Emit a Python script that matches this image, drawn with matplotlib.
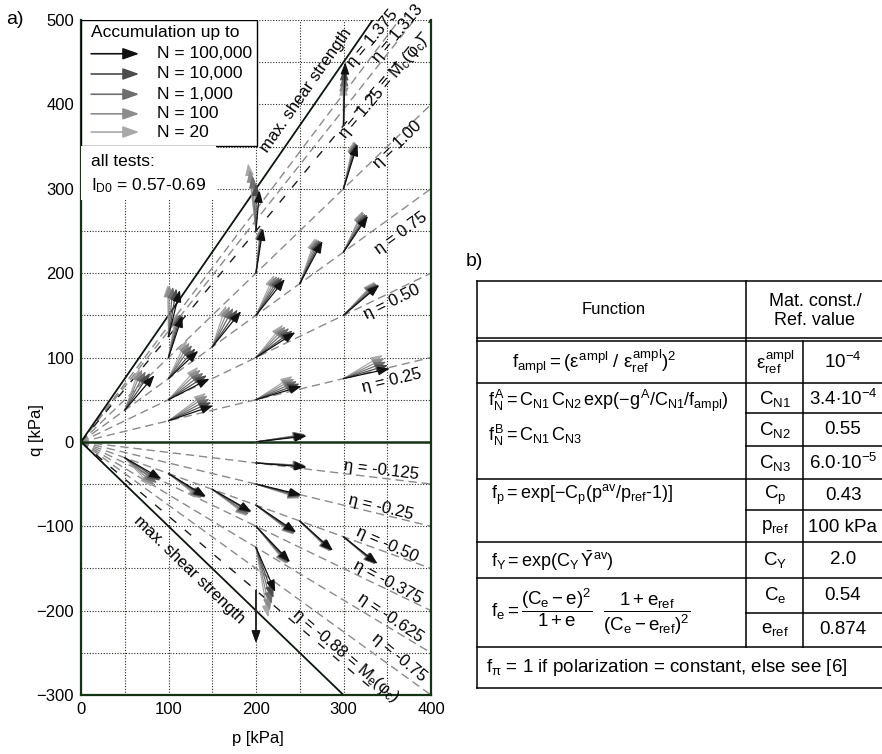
import numpy as np
import matplotlib
matplotlib.use('Agg')
import matplotlib.pyplot as plt
from matplotlib.patches import Rectangle

plt.rcParams['font.family'] = ['Liberation Sans', 'DejaVu Sans']
plt.rcParams['mathtext.fontset'] = 'custom'
plt.rcParams['mathtext.rm'] = 'Liberation Sans'
plt.rcParams['mathtext.it'] = 'Liberation Sans'
plt.rcParams['mathtext.sf'] = 'Liberation Sans'
plt.rcParams['mathtext.bf'] = 'Liberation Sans:bold'

# stress ratios eta = q/p
eta_grey = [1.375, 1.313, 1.00, 0.75, 0.50, 0.25, -0.125, -0.25, -0.375, -0.50, -0.625, -0.75]
eta_crit = [1.25, -0.88]
eta_max = [1.5, -1.0]

# accumulation arrows: start point and end points for N = 20, 100, 1000, 10000, 100000
start_p = [50, 100, 100, 100, 100, 100, 150, 200, 200, 200, 200, 200, 250, 300, 300, 300, 300, 300, 200,
           200, 50, 100, 150, 200, 200, 200, 200, 200, 250, 300]
start_q = [37.5, 25, 50, 75, 100, 125, 112.5, 50, 100, 150, 200, 250, 187.5, 75, 150, 225, 300, 375, 0,
           -25, -18.75, -37.5, -56.25, -50, -75, -100, -125, -176, -93.75, -112.5]
end_p = [[67, 70, 74, 79, 84], [143, 145, 147, 149, 151], [134, 137, 140, 144, 147], [121, 124, 127, 131, 134],
         [109, 110, 112, 114, 116], [99, 101, 105, 109, 113], [166, 170, 174, 179, 183], [242, 244, 247, 250, 252],
         [231, 234, 238, 242, 245], [221, 224, 227, 230, 233], [205, 206, 206, 207, 208], [191, 193, 196, 200, 204],
         [268, 270, 272, 274, 276], [345, 347, 349, 351, 353], [336, 337, 338, 340, 341], [322, 323, 325, 327, 328],
         [312, 313, 314, 315, 316], [300, 300, 301, 301, 302], [256, 256, 257, 257, 258],
         [256, 256, 257, 257, 258], [81, 84, 87, 90, 92], [136, 138, 140, 142, 143], [190, 191, 192, 194, 195],
         [250, 250, 251, 251, 252], [243, 244, 244, 245, 246], [235, 236, 237, 238, 239], [214, 216, 218, 220, 222],
         [200, 200, 200, 200, 200], [285, 286, 286, 287, 288], [336, 337, 337, 338, 339]]
end_q = [[87, 86, 84, 82, 79], [58, 55, 51, 47, 43], [89, 86, 82, 79, 75], [121, 118, 115, 111, 108],
         [152, 152, 151, 151, 150], [186, 186, 184, 182, 180], [162, 161, 159, 157, 155], [78, 75, 72, 69, 66],
         [139, 137, 135, 132, 130], [198, 197, 196, 195, 193], [254, 254, 254, 253, 253], [330, 322, 315, 306, 298],
         [242, 241, 240, 239, 238], [103, 99, 95, 91, 87], [190, 189, 188, 187, 186], [274, 273, 271, 270, 268],
         [357, 356, 355, 354, 353], [425, 430, 436, 443, 450], [9, 9, 8, 8, 7],
         [-28, -28, -29, -29, -30], [-53, -51, -49, -46, -44], [-67, -67, -66, -66, -65], [-88, -87, -86, -84, -83],
         [-67, -66, -65, -64, -63], [-110, -109, -109, -108, -107], [-145, -144, -144, -143, -142.5],
         [-208, -200, -192, -185, -178], [-238, -238, -238, -238, -238], [-130, -130, -129, -129, -129],
         [-145, -145, -145, -144, -144.5]]
n_labels = ['N = 20', 'N = 100', 'N = 1,000', 'N = 10,000', 'N = 100,000']
n_colors = ['#a8a8a8', '#8c8c8c', '#6e6e6e', '#4c4c4c', '#111111']

# line labels: text, p, q, rotation
line_labels = [
    ('max. shear strength', 257, 417, 55),
    ('η = 1.375', 333, 478, 50),
    ('η = 1.313', 362, 484, 50),
    (r'η = 1.25 = M$_\mathrm{c}$(φ$_\mathrm{c}$)', 345, 420, 50),
    ('η = 1.00', 362, 352, 44),
    ('η = 0.75', 366, 247, 36),
    ('η = 0.50', 355, 166, 26),
    ('η = 0.25', 355, 73, 13.5),
    ('η = -0.125', 343, -33, -7),
    ('η = -0.25', 343, -78, -13.5),
    ('η = -0.50', 350, -122, -24),
    ('η = -0.375', 351, -166, -28),
    ('η = -0.625', 354, -209, -34),
    ('η = -0.75', 364, -255, -40),
    (r'η = -0.88 = M$_\mathrm{e}$(φ$_\mathrm{c}$)', 302, -254, -40.5),
    ('max. shear strength', 124, -152, -44),
]

# table b)
head_texts = ['Function', 'Mat. const./\nRef. value']
func_texts = [r'$f_{ampl} = (\varepsilon^{ampl}\ /\ \varepsilon^{ampl}_{ref})^2$',
              r'$f_N^A = C_{N1}\,C_{N2}\,exp(-g^A/C_{N1}/f_{ampl})$',
              r'$f_N^B = C_{N1}\,C_{N3}$',
              r'$f_p = exp[-C_p(p^{av}/p_{ref}$-1)]',
              r'$f_Y = exp(C_Y\,\bar{Y}^{av})$',
              r'$f_e = \dfrac{(C_e - e)^2}{1 + e}\ \ \dfrac{1 + e_{ref}}{(C_e - e_{ref})^2}$',
              r'$f_\pi$ = 1 if polarization = constant, else see [6]']
const_names = [r'$\varepsilon^{ampl}_{ref}$', r'$C_{N1}$', r'$C_{N2}$', r'$C_{N3}$', r'$C_p$', r'$p_{ref}$',
               r'$C_Y$', r'$C_e$', r'$e_{ref}$']
const_values = [r'10$^{-4}$', r'3.4$\cdot$10$^{-4}$', '0.55', r'6.0$\cdot$10$^{-5}$', '0.43', '100 kPa',
                '2.0', '0.54', '0.874']

fig = plt.figure(figsize=(8.82, 7.54), dpi=100)

# overlay in pixel coordinates for table and panel letters
axt = fig.add_axes([0, 0, 1, 1])
axt.set_xlim(0, 882)
axt.set_ylim(754, 0)
axt.axis('off')

ax = fig.add_axes([81 / 882, 59 / 754, 350 / 882, 675 / 754])
ax.set_xlim(0, 400)
ax.set_ylim(-300, 500)
ax.set_xticks(np.arange(0, 401, 100))
ax.set_yticks(np.arange(-300, 501, 100))
ax.set_xticks(np.arange(50, 400, 100), minor=True)
ax.set_yticks(np.arange(-250, 500, 100), minor=True)
ax.tick_params(which='both', length=0, labelsize=12)
ax.tick_params(axis='x', pad=5)
ax.tick_params(axis='y', pad=5)
ax.grid(which='both', color='#2a2a20', linestyle=(0, (1, 1.5)), linewidth=0.8, zorder=0)
ax.set_axisbelow(True)
spine_col = '#143214'
for s in ['left', 'right', 'bottom']:
    ax.spines[s].set_color(spine_col)
    ax.spines[s].set_linewidth(1.6)
ax.spines['top'].set_visible(False)
ax.axhline(0, color=spine_col, lw=1.8, zorder=2)

pp = np.array([0, 400])
for e in eta_grey:
    ax.plot(pp, e * pp, color='#8a8a8a', lw=1.0, dashes=(6, 3.5), zorder=1)
for e in eta_crit:
    ax.plot(pp, e * pp, color='#1a1a1a', lw=1.0, dashes=(6, 8), zorder=1)
for e in eta_max:
    ax.plot(pp, e * pp, color='#0c160c', lw=1.3, zorder=2)

for i in range(len(start_p)):
    for k in range(5):
        ax.annotate('', xy=(end_p[i][k], end_q[i][k]), xytext=(start_p[i], start_q[i]),
                    arrowprops=dict(arrowstyle='-|>,head_length=0.55,head_width=0.2', color=n_colors[k],
                                    lw=0.9, shrinkA=0, shrinkB=0, mutation_scale=13), zorder=3)

for txt, p, q, rot in line_labels:
    ax.text(p, q, txt, rotation=rot, rotation_mode='anchor', ha='center', va='center',
            fontsize=12, zorder=4, clip_on=False)

# legend box
ax.add_patch(Rectangle((0, 0.813), 0.503, 0.187, transform=ax.transAxes, facecolor='white',
                       edgecolor='black', lw=1.0, zorder=5))
ax.add_patch(Rectangle((0, 0.733), 0.386, 0.08, transform=ax.transAxes, facecolor='white',
                       edgecolor='none', zorder=5))
ax.text(0.029, 0.981, 'Accumulation up to', transform=ax.transAxes, ha='left', va='center',
        fontsize=12.5, zorder=6)
row_y = [0.834, 0.861, 0.890, 0.920, 0.950]
for k in range(5):
    ax.annotate('', xy=(0.166, row_y[k]), xytext=(0.029, row_y[k]), xycoords='axes fraction',
                arrowprops=dict(arrowstyle='-|>,head_length=0.7,head_width=0.25', color=n_colors[k],
                                lw=1.2, shrinkA=0, shrinkB=0, mutation_scale=14), zorder=6)
    ax.text(0.217, row_y[k], n_labels[k], transform=ax.transAxes, ha='left', va='center',
            fontsize=12.5, zorder=6)
ax.text(0.029, 0.791, 'all tests:', transform=ax.transAxes, ha='left', va='center', fontsize=12.5, zorder=6)
ax.text(0.029, 0.754, r'I$_\mathrm{D0}$ = 0.57-0.69', transform=ax.transAxes, ha='left', va='center',
        fontsize=12.5, zorder=6)

fig.text(37 / 882, 1 - 430 / 754, 'q [kPa]', rotation=90, ha='center', va='center', fontsize=12)
fig.text(258 / 882, 1 - 738 / 754, 'p [kPa]', ha='center', va='center', fontsize=12)

axt.text(6, 20, 'a)', fontsize=14, ha='left', va='center')
axt.text(466, 262, 'b)', fontsize=14, ha='left', va='center')

# table lines
xl, xm, xr, xe = 477, 746, 803, 884
for y in [281, 338, 341, 383, 479, 542, 578, 647, 688]:
    axt.plot([xl, xe], [y, y], color='black', lw=1.1)
for y in [413, 446, 510, 613]:
    axt.plot([xm, xe], [y, y], color='black', lw=1.1)
axt.plot([xl, xl], [281, 688], color='black', lw=1.1)
axt.plot([xm, xm], [281, 647], color='black', lw=1.1)
axt.plot([xr, xr], [341, 647], color='black', lw=1.1)

axt.text(614, 309, head_texts[0], ha='center', va='center', fontsize=12)
axt.text(815, 311, head_texts[1], ha='center', va='center', fontsize=13, linespacing=1.2)
func_pos = [(594, 362, 'center'), (488, 401, 'left'), (488, 435, 'left'), (491, 495, 'left'),
            (491, 561, 'left'), (491, 612, 'left'), (486, 667, 'left')]
func_fs = [13.5, 13, 13, 13, 13, 13.5, 13.5]
for txt, (x, y, ha), f in zip(func_texts, func_pos, func_fs):
    axt.text(x, y, txt, ha=ha, va='center', fontsize=f)
row_c = [362, 399, 430, 463, 495, 527, 560, 595, 630]
for nm, val, y in zip(const_names, const_values, row_c):
    axt.text(775, y, nm, ha='center', va='center', fontsize=13.5)
    axt.text(843, y, val, ha='center', va='center', fontsize=13.5)

fig.savefig('out.png', dpi=100)
